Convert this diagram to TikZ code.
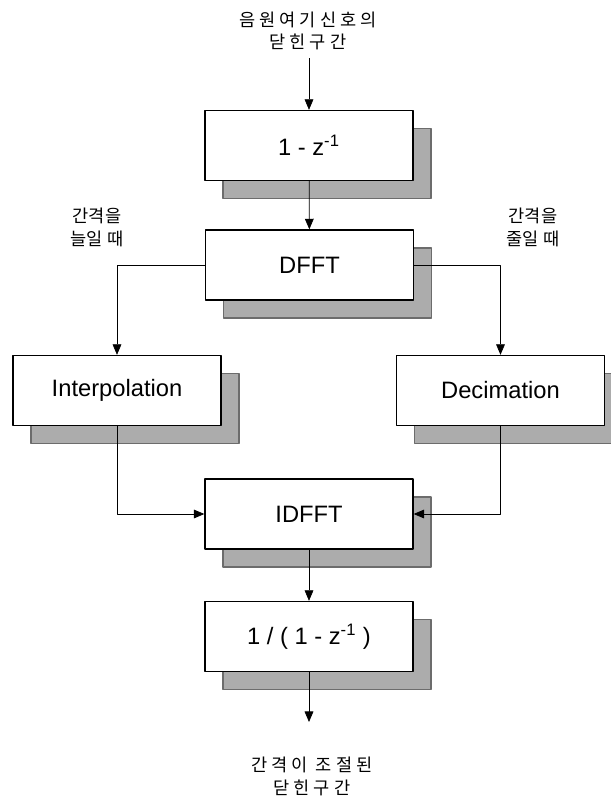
\documentclass[tikz,border=0pt]{standalone}
\usepackage{fontspec}
\setmainfont{Liberation Sans}
\newfontfamily\krfont{Noto Sans CJK KR}
\usetikzlibrary{positioning,shadows,arrows.meta}

\tikzset{
  block/.style={draw, thick, fill=white, minimum width=4.16cm, minimum height=1.4cm,
    font=\fontsize{13.5}{15}\selectfont,
    drop shadow={shadow xshift=0.36cm, shadow yshift=-0.36cm, fill=gray!65, draw=gray!85!black, opacity=1}},
  note/.style={align=center, font=\krfont\fontsize{10}{13}\selectfont, inner sep=0pt},
  flow/.style={-{Triangle[length=6pt,width=5pt]}},
}

\begin{document}
\begin{tikzpicture}[x=0.02cm, y=-0.02cm, line join=round]
\useasboundingbox (0,0) rectangle (611,805);
\begin{scope}
\clip (0,0) rectangle (611,805);
% blocks
\node[block] (diff) at (309,145.5) {1 - z\textsuperscript{-1}};
\node[block] (dfft) at (309.5,265) {DFFT};
\node[block] (interp) at (117,390.5) {Interpolation};
\node[block] (decim) at (500.5,390.5) {Decimation};
\node[block] (idfft) at (309,514) {IDFFT};
\node[block] (integ) at (309,636.5) {1 / ( 1 - z\textsuperscript{-1} )};
\end{scope}

% texts
\node[note] (src) at (308,31) {음 원 여 기 신 호 의\\닫 힌 구 간};
\node[note] (wide) at (97,227) {간격을\\늘일 때};
\node[note] (narrow) at (533,227) {간격을\\줄일 때};
\node[note] (out) at (312,776) {간 격 이 \ 조 절 된\\닫 힌 구 간};
\coordinate (in) at (309,58);
\coordinate (end) at (309,722);

% connectors
\draw[flow] (in) -- (diff);
\draw[flow] (diff) -- (dfft);
\draw[flow] (dfft.west) -| (interp.north);
\draw[flow] (dfft.east) -| (decim.north);
\draw[flow] (interp.south) |- (idfft.west);
\draw[flow] (decim.south) |- (idfft.east);
\draw[flow] (idfft) -- (integ);
\draw[flow] (integ) -- (end);
\end{tikzpicture}
\end{document}
